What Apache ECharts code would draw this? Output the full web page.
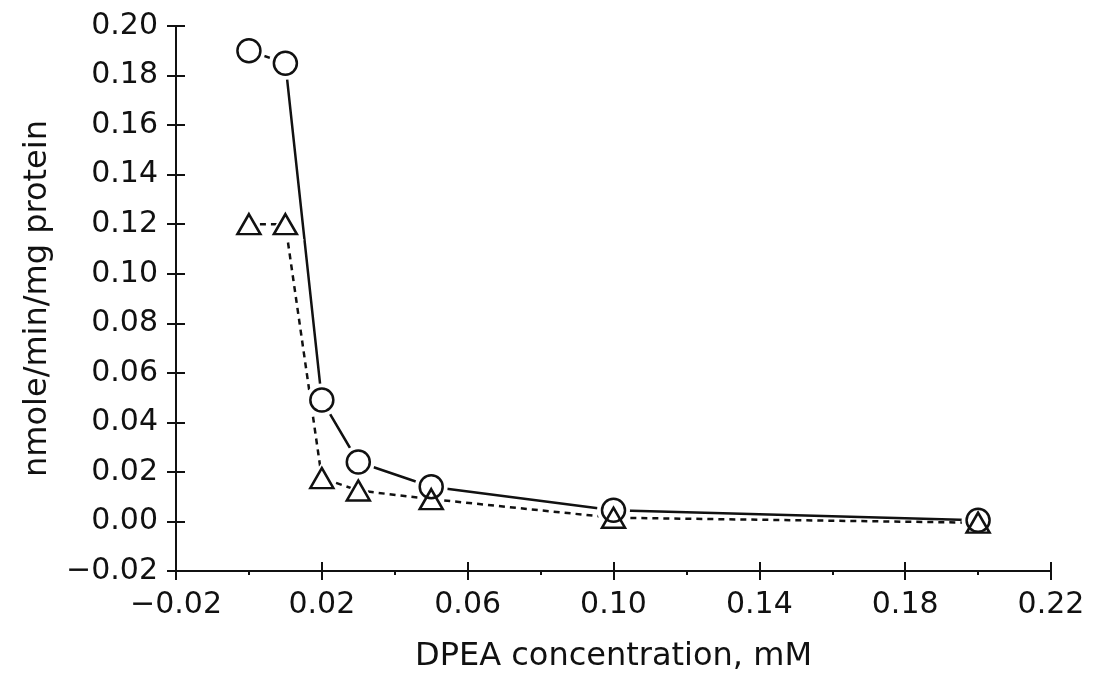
<!DOCTYPE html>
<html lang="en">
<head>
    <meta charset="UTF-8">
    <title>DPEA concentration</title>
    <script src="https://cdn.jsdelivr.net/npm/echarts@6/dist/echarts.min.js"></script>
    <style>
        html, body { margin: 0; padding: 0; background: #fff; }
        #chart { width: 1096px; height: 679px; }
    </style>
</head>
<body>
    <div id="chart"></div>
    <script>
        // DPEA concentration (mM)
        var conc = [0, 0.01, 0.02, 0.03, 0.05, 0.10, 0.20]
        // nmole/min/mg protein
        var circles = [0.190, 0.185, 0.049, 0.024, 0.014, 0.0045, 0.0005]
        var triangles = [0.120, 0.120, 0.0175, 0.0125, 0.009, 0.0015, -0.0005]

        var xTicks = { min: -0.02, max: 0.22, interval: 0.04 }
        var yTicks = { min: -0.02, max: 0.20, interval: 0.02 }

        var font = 'DejaVu Sans'
        var ink = '#111'

        function pairs(xs, ys) {
            return xs.map(function (x, i) { return [x, ys[i]] })
        }

        function fmt(v) {
            var s = Math.abs(v).toFixed(2)
            return (v < -1e-9 ? '\u2212' : '') + s
        }

        var chart = echarts.init(document.getElementById('chart'))

        var baseX = {
            type: 'value',
            min: xTicks.min, max: xTicks.max, interval: xTicks.interval,
            position: 'bottom',
            splitLine: { show: false }
        }
        var baseY = {
            type: 'value',
            min: yTicks.min, max: yTicks.max, interval: yTicks.interval,
            position: 'left',
            splitLine: { show: false }
        }

        var circleSize = 23
        var triSize = [23, 20]
        var tickLen = 9
        var hidden = 'rgba(255,255,255,0)'
        var axisLine = { show: true, onZero: false, lineStyle: { color: ink, width: 2 } }
        var ghostLine = { show: true, onZero: false, lineStyle: { color: hidden, width: 1 } }

        var option = {
            animation: false,
            backgroundColor: '#fff',
            grid: { left: 176, right: 45, top: 26, bottom: 108 },
            xAxis: [
                Object.assign({}, baseX, {
                    name: 'DPEA concentration, mM',
                    nameLocation: 'middle',
                    nameGap: 70,
                    nameTextStyle: { fontFamily: font, fontSize: 32, color: ink },
                    axisLine: axisLine,
                    axisTick: { show: true, inside: false, length: tickLen, lineStyle: { color: ink, width: 2 } },
                    minorTick: { show: true, splitNumber: 2, length: 4, lineStyle: { color: ink, width: 2 } },
                    axisLabel: {
                        fontFamily: font, fontSize: 30, color: ink, margin: 19,
                        formatter: fmt
                    }
                }),
                // shifted copy that draws the inner half of the crossing ticks
                Object.assign({}, baseX, {
                    offset: -tickLen,
                    axisLine: ghostLine,
                    axisTick: { show: true, inside: false, length: tickLen, lineStyle: { color: ink, width: 2 } },
                    minorTick: { show: false },
                    axisLabel: { show: false }
                })
            ],
            yAxis: [
                Object.assign({}, baseY, {
                    name: 'nmole/min/mg protein',
                    nameLocation: 'middle',
                    nameGap: 122,
                    nameTextStyle: { fontFamily: font, fontSize: 32, color: ink },
                    axisLine: axisLine,
                    axisTick: { show: true, inside: false, length: tickLen, lineStyle: { color: ink, width: 2 } },
                    axisLabel: {
                        fontFamily: font, fontSize: 30, color: ink, margin: 18,
                        formatter: fmt
                    }
                }),
                Object.assign({}, baseY, {
                    offset: -tickLen,
                    axisLine: ghostLine,
                    axisTick: { show: true, inside: false, length: tickLen, lineStyle: { color: ink, width: 2 } },
                    axisLabel: { show: false }
                })
            ],
            series: [
                // connecting lines
                {
                    type: 'line',
                    data: pairs(conc, circles),
                    showSymbol: false,
                    lineStyle: { color: ink, width: 2.5, type: 'solid' },
                    z: 2
                },
                {
                    type: 'line',
                    data: pairs(conc, triangles),
                    showSymbol: false,
                    lineStyle: { color: ink, width: 2.5, type: [6, 5] },
                    z: 2
                },
                // white halos so lines stop short of the markers
                {
                    type: 'scatter',
                    xAxisIndex: 1, yAxisIndex: 1,
                    data: pairs(conc, circles),
                    symbol: 'circle',
                    symbolSize: circleSize + 10,
                    itemStyle: { color: '#fff', opacity: 1 },
                    silent: true,
                    z: 3
                },
                {
                    type: 'scatter',
                    xAxisIndex: 1, yAxisIndex: 1,
                    data: pairs(conc, triangles),
                    symbol: 'triangle',
                    symbolSize: [triSize[0] + 14, triSize[1] + 12],
                    itemStyle: { color: '#fff', opacity: 1 },
                    silent: true,
                    z: 3
                },
                // markers
                {
                    type: 'scatter',
                    data: pairs(conc, circles),
                    symbol: 'circle',
                    symbolSize: circleSize,
                    itemStyle: { color: hidden, borderColor: ink, borderWidth: 2.5, opacity: 1 },
                    z: 4
                },
                {
                    type: 'scatter',
                    data: pairs(conc, triangles),
                    symbol: 'triangle',
                    symbolSize: triSize,
                    itemStyle: { color: hidden, borderColor: ink, borderWidth: 2.5, opacity: 1 },
                    z: 4
                }
            ]
        }

        chart.setOption(option)
    </script>
</body>
</html>
